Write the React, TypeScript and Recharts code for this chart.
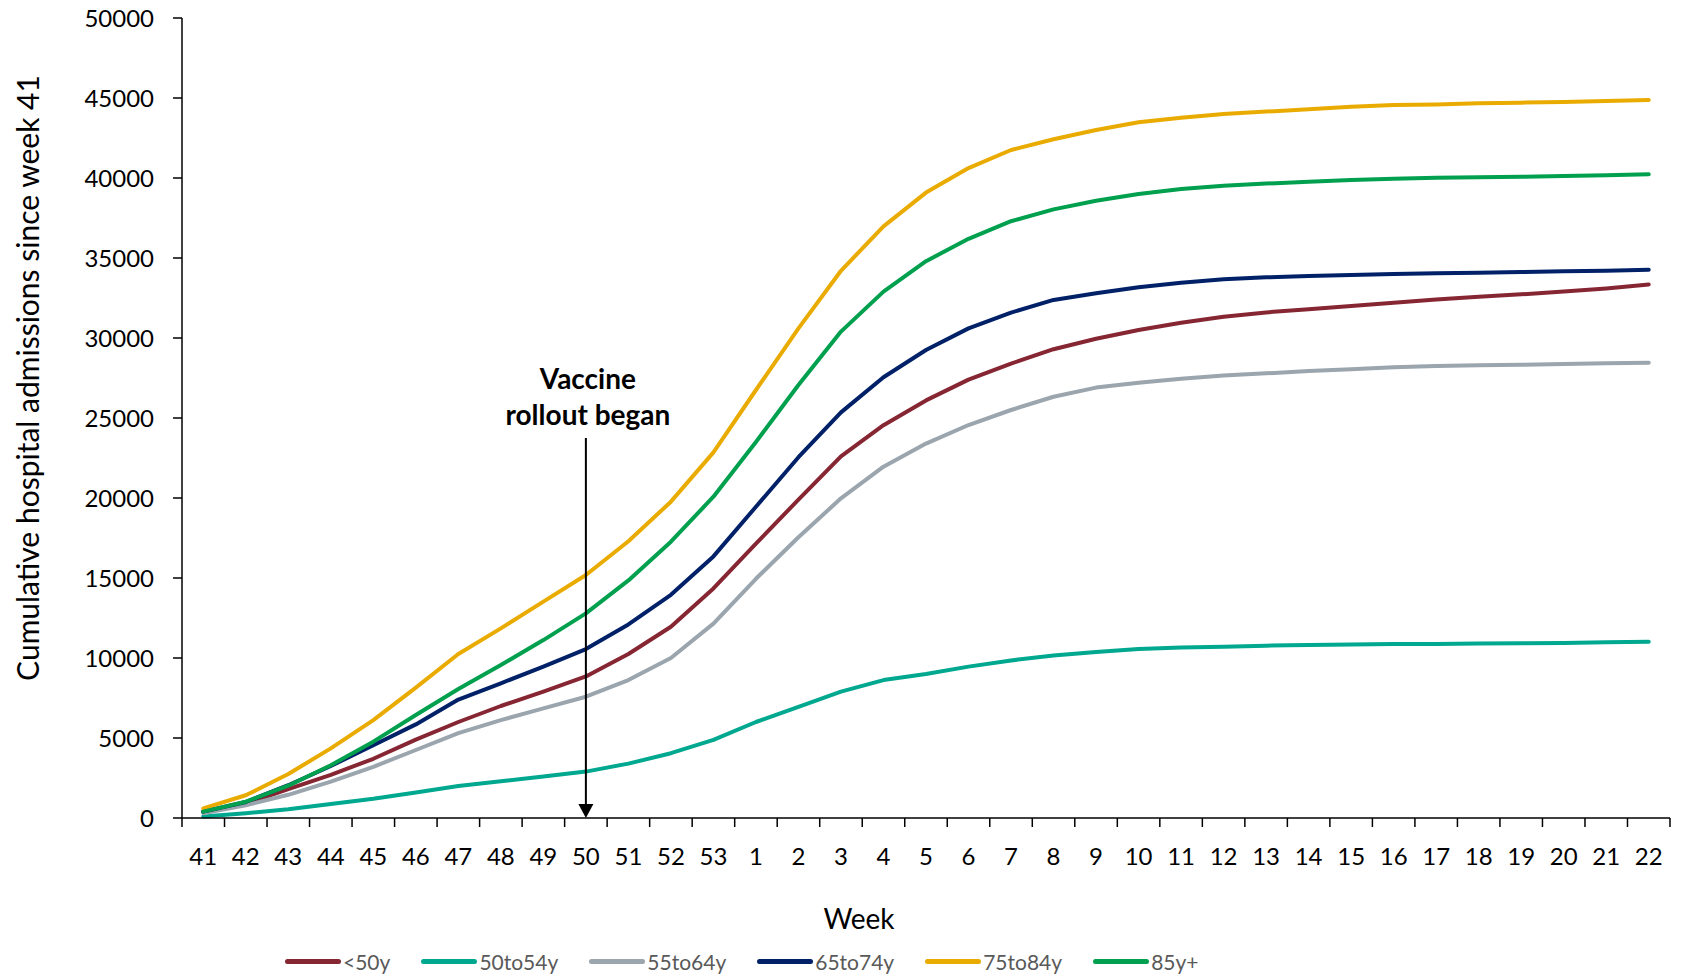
import React from "react"
import { Label, Legend, Line, LineChart, ReferenceLine, XAxis, YAxis } from "recharts"

const FONT = "Lato, 'Liberation Sans', sans-serif"

const weeks = [
  "41", "42", "43", "44", "45", "46", "47", "48", "49", "50", "51", "52", "53",
  "1", "2", "3", "4", "5", "6", "7", "8", "9", "10", "11", "12", "13", "14", "15",
  "16", "17", "18", "19", "20", "21", "22",
]

const under50 = [
  400, 900, 1800, 2700, 3700, 4900, 6000, 7000, 7900, 8850, 10250, 11950, 14350,
  17150, 19900, 22600, 24550, 26100, 27400, 28400, 29300, 29950, 30500, 30950, 31330,
  31600, 31800, 32000, 32200, 32400, 32580, 32730, 32900, 33100, 33350,
]
const age50to54 = [
  100, 300, 550, 880, 1200, 1600, 2000, 2300, 2600, 2900, 3400, 4050, 4880,
  6000, 6950, 7900, 8620, 9000, 9460, 9850, 10150, 10380, 10560, 10650, 10710,
  10770, 10810, 10840, 10870, 10880, 10900, 10920, 10940, 10980, 11020,
]
const age55to64 = [
  300, 800, 1450, 2270, 3200, 4250, 5300, 6120, 6850, 7580, 8620, 10000, 12150,
  14950, 17550, 19980, 21960, 23400, 24560, 25500, 26330, 26900, 27200, 27450, 27650,
  27790, 27940, 28040, 28170, 28250, 28290, 28330, 28380, 28420, 28460,
]
const age65to74 = [
  400, 1000, 2050, 3250, 4550, 5850, 7400, 8420, 9460, 10560, 12100, 13950, 16350,
  19450, 22550, 25350, 27550, 29250, 30600, 31590, 32380, 32800, 33170, 33460, 33670,
  33790, 33880, 33940, 34000, 34050, 34080, 34120, 34170, 34210, 34270,
]
const age75to84 = [
  600, 1420, 2750, 4350, 6120, 8150, 10250, 11850, 13520, 15190, 17300, 19770, 22850,
  26750, 30600, 34200, 36980, 39090, 40620, 41750, 42420, 43000, 43480, 43770, 44000,
  44150, 44300, 44460, 44560, 44600, 44670, 44710, 44750, 44810, 44880,
]
const age85plus = [
  400, 1020, 2020, 3300, 4770, 6440, 8060, 9560, 11120, 12790, 14850, 17270, 20080,
  23500, 27060, 30400, 32900, 34800, 36200, 37300, 38040, 38580, 39000, 39310, 39520,
  39650, 39770, 39880, 39960, 40020, 40040, 40080, 40120, 40170, 40230,
]

const yTicks = [0, 5000, 10000, 15000, 20000, 25000, 30000, 35000, 40000, 45000, 50000]
const rolloutWeek = "50"
const rolloutLabelTop = 23750

const series = [
  { key: "under50", name: "<50y", color: "#862633", values: under50 },
  { key: "age50to54", name: "50to54y", color: "#00A88F", values: age50to54 },
  { key: "age55to64", name: "55to64y", color: "#9AA5AE", values: age55to64 },
  { key: "age65to74", name: "65to74y", color: "#002168", values: age65to74 },
  { key: "age75to84", name: "75to84y", color: "#EAAB00", values: age75to84 },
  { key: "age85plus", name: "85y+", color: "#00A04E", values: age85plus },
]

const data = weeks.map((week, i) => {
  const row: Record<string, string | number> = { week }
  series.forEach((s) => {
    row[s.key] = s.values[i]
  })
  return row
})

const TICK_SIZE = 9
const TICK_MARGIN = 21

// Excel style: tick marks sit between categories, labels in the middle
const WeekTick = (props: any) => {
  const { x, y, payload, index, visibleTicksCount } = props
  const half = payload.offset ?? 0
  const axisY = y - TICK_SIZE - TICK_MARGIN
  return (
    <g>
      <line x1={x - half} x2={x - half} y1={axisY} y2={axisY + TICK_SIZE} stroke="#000" strokeWidth={1.5} />
      {index === visibleTicksCount - 1 && (
        <line x1={x + half} x2={x + half} y1={axisY} y2={axisY + TICK_SIZE} stroke="#000" strokeWidth={1.5} />
      )}
      <text x={x} y={y} dy="0.71em" textAnchor="middle" fill="#000" fontSize={24} fontFamily={FONT}>
        {payload.value}
      </text>
    </g>
  )
}

const VaccineArrow = (props: any) => {
  const { x1, y1, x2, y2 } = props
  return (
    <g>
      <line x1={x1} y1={y1} x2={x2} y2={y2 - 13} stroke="#000" strokeWidth={2} />
      <polygon points={`${x2 - 7.5},${y2 - 14} ${x2 + 7.5},${y2 - 14} ${x2},${y2}`} fill="#000" />
      <text textAnchor="middle" fontWeight="bold" fontSize={28} fontFamily={FONT} fill="#000">
        <tspan x={x1 + 2} y={y1 - 49}>Vaccine</tspan>
        <tspan x={x1 + 2} y={y1 - 13}>rollout began</tspan>
      </text>
    </g>
  )
}

// keep the series order (the library sorts its payload by name)
const renderLegend = (props: any) => {
  const { payload } = props
  const colorOf = (name: string) => payload.find((p: any) => p.value === name)?.color
  return (
    <div
      style={{
        display: "flex",
        alignItems: "center",
        height: 30,
        paddingLeft: 285,
        fontFamily: FONT,
        fontSize: 21,
        color: "#595959",
      }}
    >
      {series.map((s) => (
        <div key={s.key} style={{ display: "flex", alignItems: "center", marginRight: 31 }}>
          <span
            style={{
              display: "inline-block",
              width: 56,
              height: 5,
              borderRadius: 3,
              background: colorOf(s.name) ?? s.color,
              marginRight: 2,
            }}
          />
          <span>{s.name}</span>
        </div>
      ))}
    </div>
  )
}

export default function App() {
  return (
    <div style={{ width: 1684, height: 976, background: "#fff", fontFamily: FONT }}>
      <style>{`body { margin: 0; }`}</style>
      <LineChart width={1684} height={976} data={data} margin={{ top: 18, right: 14, left: 0, bottom: 0 }}>
        <XAxis
          dataKey="week"
          scale="band"
          interval={0}
          height={128}
          tickSize={TICK_SIZE}
          tickMargin={TICK_MARGIN}
          tickLine={false}
          axisLine={{ stroke: "#000", strokeWidth: 1.5 }}
          tick={<WeekTick />}
        >
          <Label
            content={({ viewBox }: any) => (
              <text
                x={viewBox.x + viewBox.width / 2 - 67}
                y={viewBox.y + 100}
                textAnchor="middle"
                dominantBaseline="central"
                fontSize={28}
                fontFamily={FONT}
                fill="#000"
              >
                Week
              </text>
            )}
          />
        </XAxis>
        <YAxis
          width={182}
          domain={[0, 50000]}
          ticks={yTicks}
          interval={0}
          tickSize={TICK_SIZE}
          tickMargin={19}
          axisLine={{ stroke: "#000", strokeWidth: 1.5 }}
          tickLine={{ stroke: "#000", strokeWidth: 1.5 }}
          tick={{ fill: "#000", fontSize: 24, fontFamily: FONT }}
        >
          <Label
            content={({ viewBox }: any) => {
              const cx = viewBox.x + 27
              const cy = viewBox.y + viewBox.height / 2 - 40
              return (
                <text
                  x={cx}
                  y={cy}
                  transform={`rotate(-90 ${cx} ${cy})`}
                  textAnchor="middle"
                  dominantBaseline="central"
                  fontSize={30}
                  fontFamily={FONT}
                  fill="#000"
                >
                  Cumulative hospital admissions since week 41
                </text>
              )
            }}
          />
        </YAxis>
        <Legend verticalAlign="bottom" align="left" content={renderLegend} />
        {series.map((s) => (
          <Line
            key={s.key}
            type="linear"
            dataKey={s.key}
            name={s.name}
            stroke={s.color}
            strokeWidth={4}
            strokeLinecap="round"
            strokeLinejoin="round"
            dot={false}
            activeDot={false}
            isAnimationActive={false}
          />
        ))}
        <ReferenceLine
          segment={[
            { x: rolloutWeek, y: rolloutLabelTop },
            { x: rolloutWeek, y: 0 },
          ]}
          shape={VaccineArrow}
        />
      </LineChart>
    </div>
  )
}
